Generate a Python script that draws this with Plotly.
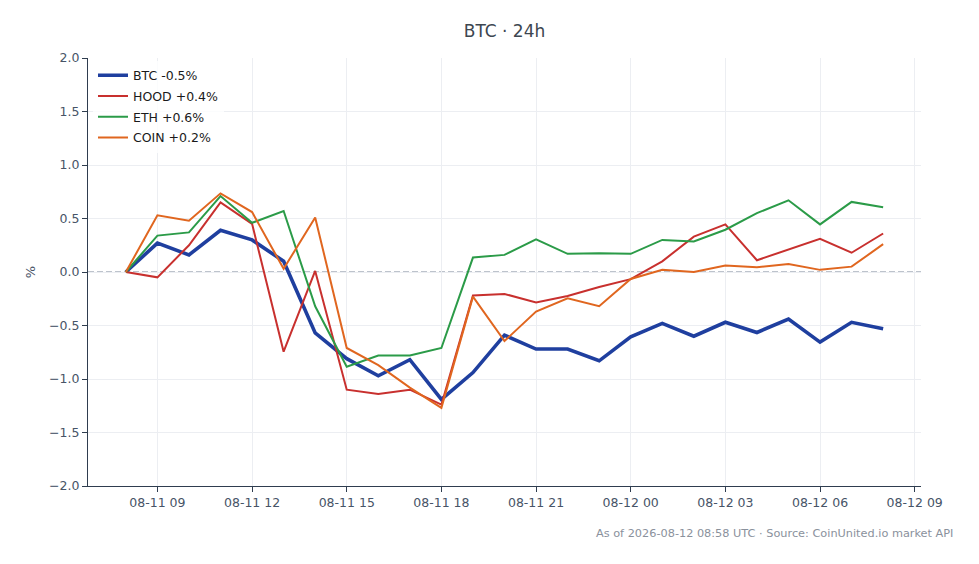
import pandas as pd
import plotly.graph_objects as go

# hourly % change over the last 24h
times = pd.date_range("2026-08-11 08:00", "2026-08-12 08:00", freq="h")

btc = [0.0, 0.27, 0.16, 0.39, 0.30, 0.10, -0.57, -0.81, -0.97, -0.82, -1.19, -0.94,
       -0.59, -0.72, -0.72, -0.83, -0.605, -0.48, -0.60, -0.47, -0.565, -0.44, -0.655, -0.47, -0.53]
hood = [0.0, -0.05, 0.25, 0.65, 0.45, -0.745, 0.01, -1.10, -1.14, -1.10, -1.24, -0.22,
        -0.205, -0.285, -0.225, -0.14, -0.067, 0.10, 0.33, 0.445, 0.11, 0.21, 0.31, 0.18, 0.36]
eth = [0.0, 0.34, 0.37, 0.71, 0.46, 0.57, -0.32, -0.885, -0.78, -0.78, -0.71, 0.135,
       0.16, 0.305, 0.17, 0.175, 0.17, 0.30, 0.285, 0.395, 0.55, 0.67, 0.445, 0.655, 0.605]
coin = [0.0, 0.53, 0.48, 0.735, 0.56, 0.03, 0.51, -0.71, -0.87, -1.08, -1.27, -0.23,
        -0.645, -0.37, -0.245, -0.32, -0.065, 0.02, 0.0, 0.06, 0.045, 0.075, 0.02, 0.05, 0.26]

names = ["BTC -0.5%", "HOOD +0.4%", "ETH +0.6%", "COIN +0.2%"]
series = [btc, hood, eth, coin]
colors = ["#1f3f9f", "#c8302e", "#2b9b48", "#e0661f"]
widths = [3.6, 2, 2, 2]

FONT = "DejaVu Sans"
AXIS = "#2f3d4f"
TXT = "#475467"

fig = go.Figure()
for name, y, c, w in zip(names, series, colors, widths):
    fig.add_trace(go.Scatter(x=times, y=y, name=name, legendgroup=name, mode="lines",
                             line=dict(color=c, width=w)))

fig.add_hline(y=0, line=dict(color="#7d8899", width=1.2, dash="6px,3px"), layer="below")

# page body has an 8px margin, so everything is placed 8px up/left of the target
fig.add_annotation(text="As of 2026-08-12 08:58 UTC · Source: CoinUnited.io market API",
                   xref="paper", yref="paper", x=1.041, y=-0.11,
                   xanchor="right", yanchor="middle", showarrow=False,
                   font=dict(family=FONT, size=11.3, color="#8a919c"))

fig.update_layout(
    width=979, height=564,
    margin=dict(l=80, r=66, t=50, b=86),
    paper_bgcolor="white", plot_bgcolor="white",
    font=dict(family=FONT, size=12.5, color=TXT),
    title=dict(text="BTC · 24h", x=0.5, xref="paper", xanchor="center",
               y=1 - 23 / 564, yanchor="middle",
               font=dict(family=FONT, size=17, color="#3d4650")),
    showlegend=True,
    legend=dict(x=0.006, y=0.994, xanchor="left", yanchor="top",
                bgcolor="rgba(255,255,255,0.8)", borderwidth=0,
                font=dict(family=FONT, size=12.5, color="#1a1a1a"),
                tracegroupgap=1.5, itemwidth=30),
    xaxis=dict(
        range=[pd.Timestamp("2026-08-11 06:48"), pd.Timestamp("2026-08-12 09:12")],
        tickmode="array",
        tickvals=pd.date_range("2026-08-11 09:00", "2026-08-12 09:00", freq="3h"),
        tickformat="%m-%d %H",
        showgrid=True, gridcolor="#eceef2", gridwidth=1,
        showline=True, linecolor=AXIS, linewidth=1.3,
        ticks="outside", ticklen=5, tickcolor=AXIS,
        zeroline=False,
    ),
    yaxis=dict(
        range=[-2.0, 2.0], dtick=0.5, tickformat=".1f",
        title=dict(text="%", standoff=10, font=dict(size=13)),
        showgrid=True, gridcolor="#eceef2", gridwidth=1,
        showline=True, linecolor=AXIS, linewidth=1.3,
        ticks="outside", ticklen=5, tickcolor=AXIS,
        zeroline=False,
    ),
)

fig.write_html("out.html")
